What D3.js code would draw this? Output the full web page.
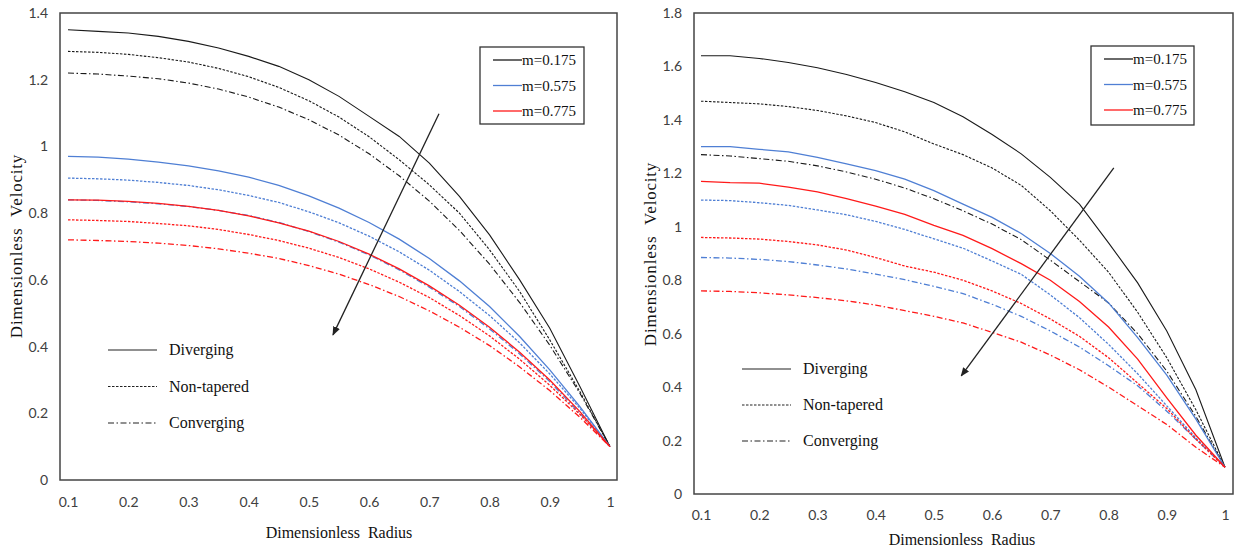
<!DOCTYPE html>
<html>
<head>
<meta charset="utf-8">
<script src="https://cdn.jsdelivr.net/npm/d3@7"></script>
<style>
  body { margin: 0; background: #fff; }
  svg { display: block; }
  .tick text { font-family: Lato, "Open Sans", sans-serif; font-size: 14px; fill: #404040; }
  .serif { font-family: "Liberation Serif", "Times New Roman", serif; fill: #111; }
</style>
</head>
<body>
<svg id="chart" width="1236" height="552"></svg>
<script>
// radius grid shared by every curve
const radius = [0.1, 0.15, 0.2, 0.25, 0.3, 0.35, 0.4, 0.45, 0.5, 0.55, 0.6, 0.65, 0.7, 0.75, 0.8, 0.85, 0.9, 0.95, 1];
const xTicks = [0.1, 0.2, 0.3, 0.4, 0.5, 0.6, 0.7, 0.8, 0.9, 1];
const leftYTicks = [0, 0.2, 0.4, 0.6, 0.8, 1, 1.2, 1.4];
const rightYTicks = [0, 0.2, 0.4, 0.6, 0.8, 1, 1.2, 1.4, 1.6, 1.8];
const mLabels = ["m=0.175", "m=0.575", "m=0.775"];
const shapeLabels = ["Diverging", "Non-tapered", "Converging"];

// left panel
const leftDiv175 = [1.35, 1.345, 1.34, 1.33, 1.315, 1.295, 1.27, 1.24, 1.2, 1.15, 1.09, 1.03, 0.95, 0.85, 0.735, 0.6, 0.455, 0.28, 0.1];
const leftNon175 = [1.285, 1.282, 1.276, 1.266, 1.253, 1.234, 1.209, 1.177, 1.137, 1.088, 1.029, 0.96, 0.885, 0.8, 0.69, 0.565, 0.42, 0.265, 0.1];
const leftCon175 = [1.22, 1.217, 1.211, 1.203, 1.19, 1.172, 1.148, 1.118, 1.08, 1.034, 0.978, 0.912, 0.836, 0.748, 0.647, 0.532, 0.404, 0.26, 0.1];
const leftDiv575 = [0.97, 0.968, 0.962, 0.953, 0.942, 0.927, 0.908, 0.883, 0.852, 0.815, 0.772, 0.722, 0.664, 0.597, 0.52, 0.43, 0.33, 0.22, 0.1];
const leftNon575 = [0.905, 0.903, 0.899, 0.892, 0.883, 0.87, 0.853, 0.832, 0.804, 0.771, 0.731, 0.684, 0.629, 0.565, 0.493, 0.411, 0.318, 0.215, 0.1];
const leftCon575 = [0.84, 0.838, 0.834, 0.828, 0.82, 0.808, 0.793, 0.772, 0.745, 0.713, 0.675, 0.63, 0.578, 0.52, 0.453, 0.378, 0.295, 0.2, 0.1];
const leftDiv775 = [0.84, 0.839, 0.835, 0.829, 0.82, 0.808, 0.792, 0.771, 0.746, 0.715, 0.677, 0.633, 0.582, 0.524, 0.458, 0.383, 0.3, 0.205, 0.1];
const leftNon775 = [0.78, 0.778, 0.775, 0.769, 0.762, 0.751, 0.736, 0.718, 0.695, 0.667, 0.633, 0.593, 0.547, 0.493, 0.432, 0.362, 0.284, 0.197, 0.1];
const leftCon775 = [0.72, 0.718, 0.715, 0.71, 0.703, 0.693, 0.68, 0.664, 0.643, 0.617, 0.586, 0.55, 0.507, 0.458, 0.403, 0.339, 0.268, 0.188, 0.1];

// right panel
const rightDiv175 = [1.64, 1.64, 1.63, 1.615, 1.595, 1.57, 1.54, 1.505, 1.465, 1.412, 1.345, 1.273, 1.185, 1.085, 0.94, 0.79, 0.61, 0.39, 0.1];
const rightNon175 = [1.47, 1.465, 1.46, 1.45, 1.435, 1.415, 1.39, 1.355, 1.31, 1.27, 1.22, 1.155, 1.06, 0.95, 0.83, 0.68, 0.51, 0.315, 0.1];
const rightCon175 = [1.27, 1.265, 1.255, 1.245, 1.228, 1.205, 1.178, 1.145, 1.105, 1.06, 1.01, 0.952, 0.875, 0.795, 0.715, 0.6, 0.46, 0.29, 0.1];
const rightDiv575 = [1.3, 1.3, 1.29, 1.28, 1.26, 1.235, 1.21, 1.178, 1.135, 1.085, 1.035, 0.975, 0.9, 0.815, 0.715, 0.585, 0.445, 0.28, 0.1];
const rightNon575 = [1.1, 1.098, 1.09, 1.08, 1.063, 1.045, 1.02, 0.99, 0.955, 0.92, 0.872, 0.822, 0.745, 0.66, 0.56, 0.45, 0.33, 0.21, 0.1];
const rightCon575 = [0.885, 0.883, 0.878, 0.87, 0.857, 0.842, 0.823, 0.802, 0.777, 0.75, 0.71, 0.665, 0.61, 0.55, 0.48, 0.405, 0.31, 0.205, 0.1];
const rightDiv775 = [1.17, 1.165, 1.163, 1.148, 1.131, 1.105, 1.077, 1.046, 1.005, 0.968, 0.918, 0.862, 0.8, 0.72, 0.625, 0.505, 0.36, 0.22, 0.1];
const rightNon775 = [0.96, 0.958, 0.954, 0.945, 0.932, 0.913, 0.885, 0.853, 0.83, 0.8, 0.76, 0.713, 0.655, 0.59, 0.51, 0.415, 0.32, 0.205, 0.1];
const rightCon775 = [0.76, 0.758, 0.753, 0.745, 0.735, 0.723, 0.707, 0.686, 0.665, 0.64, 0.605, 0.568, 0.52, 0.465, 0.4, 0.33, 0.26, 0.175, 0.1];

const colors = ["#1a1a1a", "#4f7fd4", "#ff1a1a"];
const dashes = [null, "2.5,1.5", "6,2.5,1.5,2.5"];

const svg = d3.select("#chart");

svg.append("defs").append("marker")
   .attr("id", "arrowhead")
   .attr("viewBox", "0 0 10 10")
   .attr("refX", 9).attr("refY", 5)
   .attr("markerWidth", 7).attr("markerHeight", 7)
   .attr("orient", "auto")
   .append("path")
   .attr("d", "M0,1 L10,5 L0,9 z")
   .attr("fill", "#222");

function drawPanel(p) {
   const x = d3.scaleLinear().domain([0.1, 1]).range(p.xRange);
   const y = d3.scaleLinear().domain(p.yDomain).range(p.yRange);
   const g = svg.append("g");

   // frame
   g.append("rect")
      .attr("x", p.frame[0]).attr("y", p.frame[1])
      .attr("width", p.frame[2] - p.frame[0]).attr("height", p.frame[3] - p.frame[1])
      .attr("fill", "none").attr("stroke", "#444").attr("stroke-width", 1.5);

   const xAxis = g.append("g")
      .attr("transform", `translate(0,${p.frame[3]})`)
      .call(d3.axisBottom(x).tickValues(xTicks).tickSize(0).tickPadding(p.xPad)
         .tickFormat(d => d === 1 ? "1" : d.toFixed(1)));
   xAxis.select(".domain").remove();

   const yAxis = g.append("g")
      .attr("transform", `translate(${p.frame[0]},0)`)
      .call(d3.axisLeft(y).tickValues(p.yTicks).tickSize(0).tickPadding(p.yPad)
         .tickFormat(d => (d === 0 || d === 1) ? String(d) : d.toFixed(1)));
   yAxis.select(".domain").remove();

   const line = d3.line().x((d, i) => x(radius[i])).y(d => y(d));

   p.series.forEach(s => {
      g.append("path")
         .datum(s.values)
         .attr("d", line)
         .attr("fill", "none")
         .attr("stroke", colors[s.color])
         .attr("stroke-width", s.color === 0 ? 1.1 : 1.3)
         .attr("stroke-dasharray", dashes[s.dash]);
   });

   // arrow
   g.append("line")
      .attr("x1", x(p.arrow[0])).attr("y1", y(p.arrow[1]))
      .attr("x2", x(p.arrow[2])).attr("y2", y(p.arrow[3]))
      .attr("stroke", "#222").attr("stroke-width", 1.3)
      .attr("marker-end", "url(#arrowhead)");

   // m legend
   const lg = g.append("g").attr("transform", `translate(${p.mLegend[0]},${p.mLegend[1]})`);
   lg.append("rect").attr("width", p.mLegend[2]).attr("height", p.mLegend[3])
      .attr("fill", "#fff").attr("stroke", "#333").attr("stroke-width", 1.3);
   mLabels.forEach((t, i) => {
      const yy = 13 + i * 25.5;
      lg.append("line").attr("x1", 13).attr("x2", 42).attr("y1", yy).attr("y2", yy)
         .attr("stroke", colors[i]).attr("stroke-width", 1.3);
      lg.append("text").attr("class", "serif").attr("x", 42).attr("y", yy + 5)
         .attr("font-size", 15).text(t);
   });

   // shape legend
   const sg = g.append("g").attr("transform", `translate(${p.sLegend[0]},${p.sLegend[1]})`);
   shapeLabels.forEach((t, i) => {
      const yy = i * p.sLegend[2];
      sg.append("line").attr("x1", 0).attr("x2", 49).attr("y1", yy).attr("y2", yy)
         .attr("stroke", "#222").attr("stroke-width", 1.1)
         .attr("stroke-dasharray", dashes[i]);
      sg.append("text").attr("class", "serif").attr("x", 61).attr("y", yy + 5)
         .attr("font-size", 16).text(t);
   });

   // axis titles
   g.append("text").attr("class", "serif")
      .attr("x", p.xTitle[0]).attr("y", p.xTitle[1])
      .attr("text-anchor", "middle").attr("font-size", 16)
      .attr("word-spacing", 4)
      .text("Dimensionless Radius");
   g.append("text").attr("class", "serif")
      .attr("transform", `translate(${p.yTitle[0]},${p.yTitle[1]}) rotate(-90)`)
      .attr("text-anchor", "middle").attr("font-size", 17)
      .attr("letter-spacing", 0.8).attr("word-spacing", 6)
      .text("Dimensionless Velocity");
}

drawPanel({
   xRange: [68, 610], yDomain: [0, 1.4], yRange: [480, 13],
   frame: [60, 13, 617, 480], xPad: 17, yPad: 12, yTicks: leftYTicks,
   series: [
      { values: leftDiv175, color: 0, dash: 0 }, { values: leftNon175, color: 0, dash: 1 }, { values: leftCon175, color: 0, dash: 2 },
      { values: leftDiv575, color: 1, dash: 0 }, { values: leftNon575, color: 1, dash: 1 }, { values: leftCon575, color: 1, dash: 2 },
      { values: leftDiv775, color: 2, dash: 0 }, { values: leftNon775, color: 2, dash: 1 }, { values: leftCon775, color: 2, dash: 2 }
   ],
   arrow: [0.716, 1.098, 0.54, 0.435],
   mLegend: [480, 47, 104, 77],
   sLegend: [108, 350, 36.5],
   xTitle: [339, 538], yTitle: [22, 246]
});

drawPanel({
   xRange: [701, 1225], yDomain: [0, 1.8], yRange: [494, 13],
   frame: [694, 13, 1233, 494], xPad: 16, yPad: 12, yTicks: rightYTicks,
   series: [
      { values: rightDiv175, color: 0, dash: 0 }, { values: rightNon175, color: 0, dash: 1 }, { values: rightCon175, color: 0, dash: 2 },
      { values: rightDiv575, color: 1, dash: 0 }, { values: rightNon575, color: 1, dash: 1 }, { values: rightCon575, color: 1, dash: 2 },
      { values: rightDiv775, color: 2, dash: 0 }, { values: rightNon775, color: 2, dash: 1 }, { values: rightCon775, color: 2, dash: 2 }
   ],
   arrow: [0.809, 1.22, 0.547, 0.442],
   mLegend: [1091, 46, 103, 79],
   sLegend: [742, 369, 36],
   xTitle: [962, 545], yTitle: [656, 254]
});
</script>
</body>
</html>
